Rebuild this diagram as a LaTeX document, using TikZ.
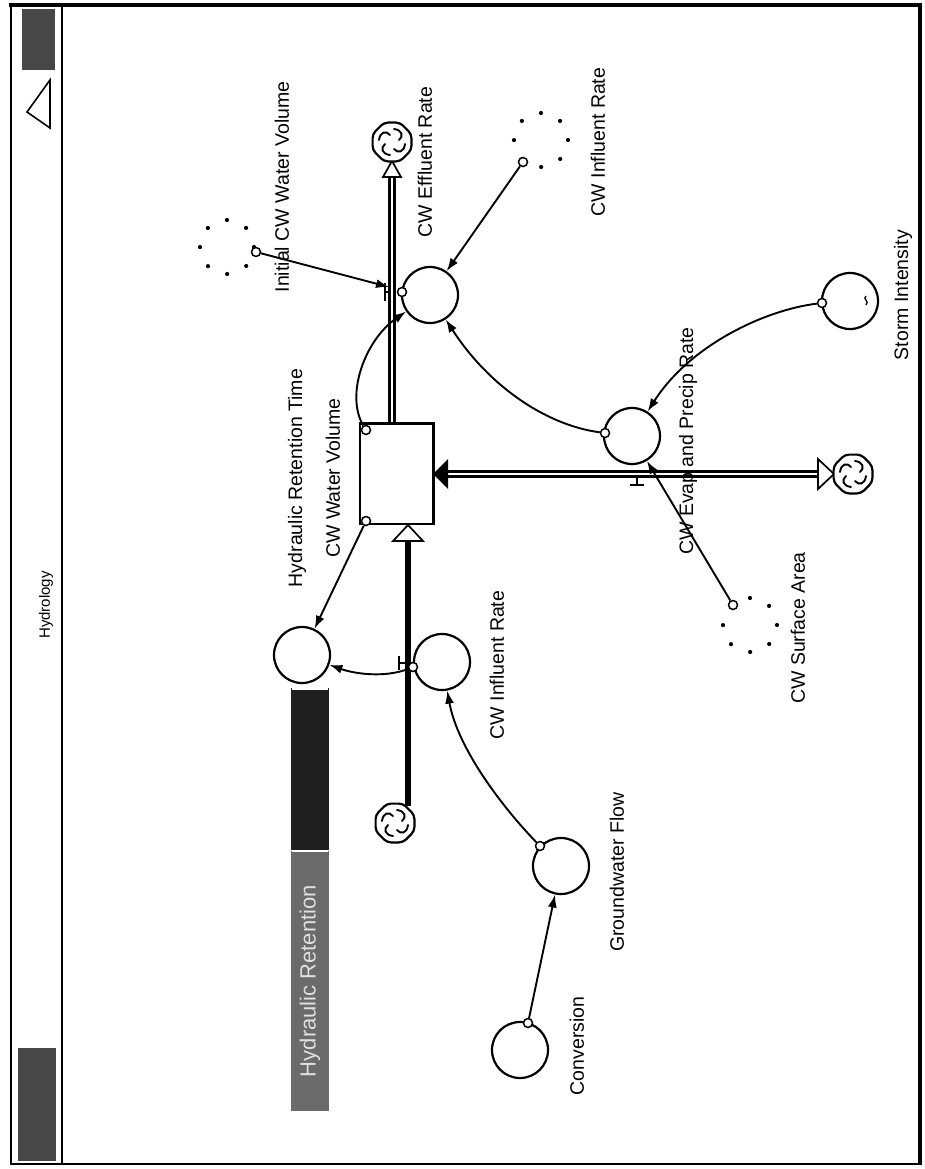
\documentclass[tikz,border=0pt]{standalone}
\usepackage{fontspec}
\setmainfont{Liberation Sans}
\usetikzlibrary{arrows.meta,shapes.geometric}
\newcommand{\swirl}[1]{%
  \foreach \a in {0,90,180,270}
    \draw[line width=1.9pt, line cap=round, shift={(#1.center)}, rotate=\a]
      (2,-13) .. controls (10,-12) and (12,-6) .. (7,-2);}

\begin{document}
\begin{tikzpicture}[x=1pt, y=-1pt, font=\fontsize{19.5}{23}\selectfont,
  converter/.style={circle, draw, line width=2.2pt, minimum size=56pt, inner sep=0pt, fill=white},
  ghost/.style={circle, draw, minimum size=54pt, inner sep=0pt, line width=4.2pt, line cap=round, dash pattern=on 0pt off 21.2pt},
  tab/.style={circle, draw, fill=white, line width=1.5pt, minimum size=9pt, inner sep=0pt},
  cloudsym/.style={regular polygon, regular polygon sides=8, rounded corners=4pt, draw, line width=2.2pt,
    minimum size=42pt, inner sep=0pt, fill=white},
  lbl/.style={rotate=90, inner sep=0pt},
  link/.style={-{Latex[length=13pt, width=9pt]}, line width=1.9pt},
  pipe/.style={line width=2.4pt, double=white, double distance=2.6pt},
  hollow/.style={draw, fill=white, line width=1.7pt},
  valve/.style={line width=1.8pt}]
  \useasboundingbox (0,0) rectangle (924,1169);
  % window frame and title strip
  \draw[line width=1.6pt] (11,5) rectangle (919,1164);
  \draw[line width=3.2pt] (9,5) -- (920,5) -- (920,1165);
  \draw[line width=1.4pt] (62,5) -- (62,1164);
  \fill[black!72] (22,9) rectangle (55,70);
  \draw[line width=1.6pt] (50,80) -- (27,112) -- (50,128) -- cycle;
  \fill[black!72] (18,1048) rectangle (56,1161);
  \node[lbl, font=\fontsize{15}{18}\selectfont] (title) at (46,605) {Hydrology};

  % flows
  \coordinate (inbot) at (408,806);
  \coordinate (intop) at (408,541);
  \coordinate (outtop) at (392,177);
  \coordinate (evL) at (448,474);
  \coordinate (evR) at (818,474);
  \draw[line width=6.5pt] (inbot) -- (intop);
  \draw[hollow] (393,541) -- (423,541) -- (408,525) -- cycle;
  \draw[pipe] (392,424) -- (outtop);
  \draw[hollow] (383,177) -- (401,177) -- (392,161) -- cycle;
  \draw[pipe] (evL) -- (evR);
  \fill (433,474) -- (448,459) -- (448,489) -- cycle;
  \draw[hollow] (818,459) -- (834,474) -- (818,489) -- cycle;

  % stock, clouds, converters
  \node[draw, fill=white, line width=1.9pt, minimum width=73pt, minimum height=100pt, inner sep=0pt] (cwv) at (396.5,474) {};
  \draw[line width=3pt] (cwv.north west) -- (cwv.north east) -- (cwv.south east);
  \node[cloudsym] (cldin) at (395,823) {};
  \node[cloudsym] (cldout) at (392,142) {};
  \node[cloudsym] (cldevap) at (853,474) {};
  \swirl{cldin} \swirl{cldout} \swirl{cldevap}

  \node[converter] (hrt) at (302,655) {};
  \node[converter] (cwinf) at (442,662) {};
  \node[converter] (cweff) at (430,295) {};
  \node[converter] (evap) at (632,436) {};
  \node[converter] (storm) at (850,301) {};
  \node[converter] (gwf) at (561,866) {};
  \node[converter] (conv) at (520,1050) {};
  \draw[line width=1.3pt] (866,296) .. controls (862,299) and (870,301) .. (866,305);

  \node[ghost] (ghinit) at (227,247) {};
  \node[ghost] (ghinf) at (541,140) {};
  \node[ghost] (ghsurf) at (750,625) {};

  % valves
  \draw[valve] (405,663) -- (399,663) (399,656) -- (399,670);
  \draw[valve] (389,292) -- (385,292) (385,283) -- (385,301);
  \draw[valve] (637,478) -- (637,485) (630,485) -- (644,485);
  \coordinate (valveout) at (389,287);

  % connector tabs
  \node[tab] (volA) at (366,430) {};
  \node[tab] (volB) at (366,521) {};
  \node[tab] (cwinfT) at (413,667) {};
  \node[tab] (cweffT) at (402,292) {};
  \node[tab] (evapT) at (605,433) {};
  \node[tab] (stormT) at (822,303) {};
  \node[tab] (gwfT) at (540,846) {};
  \node[tab] (convT) at (528,1023) {};
  \node[tab] (ghinitT) at (256,252) {};
  \node[tab] (ghinfT) at (523,162) {};
  \node[tab] (ghsurfT) at (733,605) {};

  % connectors
  \draw[link] (convT) -- (gwf);
  \draw[link] (gwfT) .. controls (505,810) and (458,750) .. (cwinf);
  \draw[link] (cwinfT) .. controls (385,678) and (355,674) .. (hrt);
  \draw[link] (volB) -- (hrt);
  \draw[link] (volA) .. controls (345,395) and (365,340) .. (cweff);
  \draw[link] (ghinitT) -- (valveout);
  \draw[link] (ghinfT) -- (cweff);
  \draw[link] (evapT) .. controls (545,425) and (488,385) .. (cweff);
  \draw[link] (stormT) .. controls (765,310) and (690,345) .. (evap);
  \draw[link] (ghsurfT) -- (evap);

  % button
  \node[rotate=90, fill=black!88, minimum width=162pt, minimum height=38pt, inner sep=0pt] (btnval) at (310,769) {};
  \node[rotate=90, fill=black!58, text=white!88!black, minimum width=260pt, minimum height=38pt, inner sep=0pt,
    font=\fontsize{22}{26}\selectfont] (btn) at (310,981) {Hydraulic Retention};
  \draw[white, line width=1.5pt] (292,689) -- (328,689) (292,851) -- (328,851);

  % labels
  \node[lbl] (lInit) at (282,187) {Initial CW Water Volume};
  \node[lbl] (lEff) at (425,162) {CW Effluent Rate};
  \node[lbl] (lInfTop) at (598,142) {CW Influent Rate};
  \node[lbl] (lHrt) at (297,478) {Hydraulic Retention Time};
  \node[lbl] (lCwv) at (333,478) {CW Water Volume};
  \node[lbl] (lEvap) at (688,441) {CW Evap and Precip Rate};
  \node[lbl] (lStorm) at (903,295) {Storm Intensity};
  \node[lbl] (lSurf) at (798,628) {CW Surface Area};
  \node[lbl] (lInf) at (497,665) {CW Influent Rate};
  \node[lbl] (lGwf) at (617,872) {Groundwater Flow};
  \node[lbl] (lConv) at (577,1046) {Conversion};
\end{tikzpicture}
\end{document}
